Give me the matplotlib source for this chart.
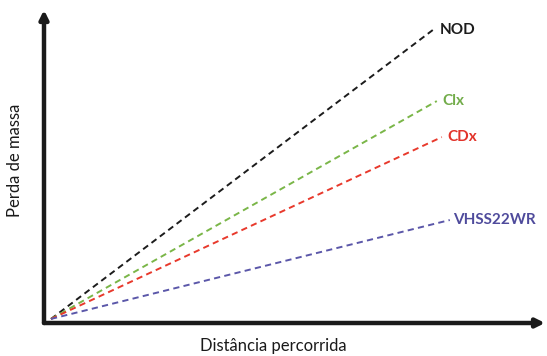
import matplotlib
matplotlib.use("Agg")
import matplotlib.pyplot as plt

series = ["NOD", "Clx", "CDx", "VHSS22WR"]
colors = ["#1c1c1c", "#7ab648", "#e8392c", "#5b57a9"]
label_colors = ["#1c1c1c", "#72ac4a", "#e2332a", "#4f4b9c"]
x_start = [0.14, 0.14, 0.14, 0.14]
y_start = [0.13, 0.13, 0.13, 0.13]
x_end = [7.76, 7.84, 7.94, 8.10]
y_end = [9.36, 7.09, 5.94, 3.29]

plt.rcParams['font.family'] = ['Lato', 'DejaVu Sans']

W, H = 547, 356
fig = plt.figure(figsize=(W / 100, H / 100), dpi=100)
ax = fig.add_axes([44 / W, (H - 323) / H, (545 - 44) / W, (323 - 10) / H])
ax.set_xlim(0, 10)
ax.set_ylim(0, 10)
for s in ax.spines.values():
    s.set_visible(False)
ax.set_xticks([])
ax.set_yticks([])

offsets = [5, 4, 4, 2.5]
for i, name in enumerate(series):
    ax.plot([x_start[i], x_end[i]], [y_start[i], y_end[i]], color=colors[i],
            lw=1.4, dashes=(3.2, 2.2), clip_on=False)
    ax.annotate(name, xy=(x_end[i], y_end[i]), xytext=(offsets[i], 0), textcoords='offset points',
                ha='left', va='center', fontsize=11, fontweight='bold', color=label_colors[i])

# axis arrows
ax.annotate('', xy=(1.0, 0), xytext=(0, 0), xycoords='axes fraction',
            arrowprops=dict(arrowstyle='-|>,head_length=0.5,head_width=0.25', lw=3.2,
                            color='#1a1a1a', shrinkA=0, shrinkB=0))
ax.annotate('', xy=(0, 1.0), xytext=(0, 0), xycoords='axes fraction',
            arrowprops=dict(arrowstyle='-|>,head_length=0.5,head_width=0.25', lw=3.2,
                            color='#1a1a1a', shrinkA=0, shrinkB=0))

fig.text(200 / W, 1 - 346 / H, "Distância percorrida", ha='left', va='center',
         fontsize=12, color='#1a1a1a')
fig.text(15 / W, 1 - 160 / H, "Perda de massa", ha='center', va='center',
         rotation=90, fontsize=12, color='#1a1a1a')

fig.savefig("out.png", dpi=100, facecolor='white')
